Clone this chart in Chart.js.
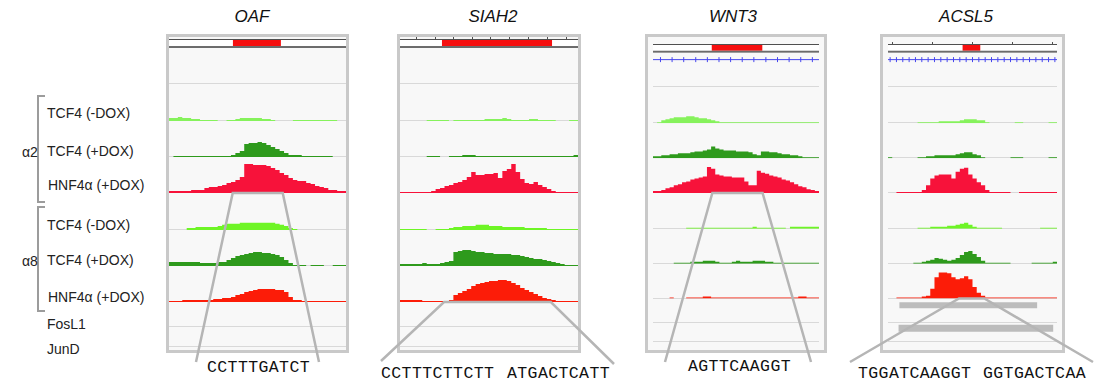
<!DOCTYPE html>
<html>
<head>
<meta charset="utf-8">
<script src="https://cdn.jsdelivr.net/npm/chart.js@4.4.1/dist/chart.umd.min.js"></script>
<style>
body{margin:0;width:1096px;height:383px;background:#fff;position:relative;overflow:hidden;font-family:"Liberation Sans",Arial,sans-serif}
.panel{position:absolute;top:34px;height:313px;border:3px solid #c9c9c9;background:#f8f8f8}
.panel canvas{display:block}
.gene{position:absolute;top:17px;font-style:italic;font-size:17px;color:#111;transform:translate(-50%,-50%)}
.lab{position:absolute;font-size:14px;color:#222;transform:translateY(-50%);white-space:nowrap}
.seq{position:absolute;font-family:"Liberation Mono","Courier New",monospace;font-size:16.5px;letter-spacing:0.4px;color:#111;transform:translateY(-50%);white-space:nowrap}
.br{position:absolute;border:2px solid #9c9c9c;border-right:none;width:6px}
#over{position:absolute;left:0;top:0;z-index:5}
</style>
</head>
<body>

<div class="gene" style="left:252px">OAF</div>
<div class="gene" style="left:493px">SIAH2</div>
<div class="gene" style="left:733px">WNT3</div>
<div class="gene" style="left:966px">ACSL5</div>

<div class="br" style="left:37px;top:95px;height:104px"></div>
<div class="br" style="left:37px;top:206px;height:102px"></div>
<div class="lab" style="left:22px;top:152px">α2</div>
<div class="lab" style="left:22px;top:261px">α8</div>
<div class="lab" style="left:47px;top:113px">TCF4 (-DOX)</div>
<div class="lab" style="left:47px;top:151px">TCF4 (+DOX)</div>
<div class="lab" style="left:48px;top:185px">HNF4α (+DOX)</div>
<div class="lab" style="left:47px;top:225px">TCF4 (-DOX)</div>
<div class="lab" style="left:47px;top:260px">TCF4 (+DOX)</div>
<div class="lab" style="left:48px;top:297px">HNF4α (+DOX)</div>
<div class="lab" style="left:47px;top:324px">FosL1</div>
<div class="lab" style="left:47px;top:349px">JunD</div>

<div class="panel" style="left:166px;width:177px"><canvas id="c0" width="177" height="313"></canvas></div>
<div class="panel" style="left:397px;width:178px"><canvas id="c1" width="178" height="313"></canvas></div>
<div class="panel" style="left:645px;width:176px"><canvas id="c2" width="176" height="313"></canvas></div>
<div class="panel" style="left:880px;width:179px"><canvas id="c3" width="179" height="313"></canvas></div>

<div class="seq" style="left:207px;top:367px">CCTTTGATCT</div>
<div class="seq" style="left:381px;top:373px">CCTTTCTTCTT</div>
<div class="seq" style="left:507px;top:373px">ATGACTCATT</div>
<div class="seq" style="left:688px;top:366px">AGTTCAAGGT</div>
<div class="seq" style="left:858px;top:373px">TGGATCAAGGT</div>
<div class="seq" style="left:983px;top:373px">GGTGACTCAA</div>

<svg id="over" width="1096" height="383"></svg>

<script>
// signal per bin (40 bins per locus), track height ~36
const oaf_t1 = [3,3,4,3,3,2,2,1,1,1,1,0,0,1,1,2,3,3,3,3,3,2,2,1,0,0,0,0,1,1,1,1,1,1,1,1,1,1,0,0]
const oaf_t2 = [0,1,1,1,1,1,1,1,1,1,1,1,1,1,2,4,6,13,14,14,15,14,12,10,8,6,4,2,2,2,1,1,1,1,1,1,1,0,0,0]
const oaf_t3 = [2,2,2,2,2,3,3,3,5,6,6,7,8,10,11,13,16,29,29,28,28,28,27,25,23,20,18,15,13,12,12,10,9,7,6,5,3,3,2,2]
const oaf_t4 = [0,0,0,0,2,2,3,3,3,3,3,4,5,6,6,6,7,7,7,7,7,7,7,7,6,5,4,2,1,0,0,0,0,0,0,0,0,0,0,0]
const oaf_t5 = [4,4,4,4,4,4,4,3,3,3,3,4,4,6,8,10,11,12,13,14,14,13,13,12,11,9,6,3,1,1,1,0,1,1,1,0,0,1,1,1]
const oaf_t6 = [1,1,1,2,2,2,2,2,2,2,3,3,4,4,5,7,8,10,11,12,13,13,13,13,12,12,10,5,2,2,1,1,1,1,1,1,1,1,1,1]

const siah_t1 = [0,0,0,0,0,0,1,1,1,1,1,0,1,1,1,1,1,1,1,2,2,2,2,3,2,1,1,1,1,2,2,1,1,1,1,0,0,0,1,1]
const siah_t2 = [0,0,0,0,0,0,1,1,1,0,0,1,1,1,2,2,2,1,1,1,1,1,1,1,1,1,1,1,1,1,1,1,1,1,1,1,1,1,1,2]
const siah_t3 = [1,1,1,1,1,1,1,2,4,5,7,8,10,11,13,16,21,18,18,19,19,20,15,22,24,29,21,14,10,9,11,8,6,4,2,1,1,1,1,1]
const siah_t4 = [1,1,1,1,1,1,0,0,1,1,1,2,3,3,4,4,4,5,5,5,4,4,4,3,3,3,3,3,2,2,2,2,2,1,1,1,1,1,1,1]
const siah_t5 = [2,2,2,2,2,3,2,2,2,3,4,5,14,15,16,16,15,14,14,13,13,12,12,12,12,11,11,10,9,8,7,7,6,5,4,3,2,1,1,1]
const siah_t6 = [2,2,2,2,2,1,1,1,1,1,1,2,7,9,11,13,16,18,19,20,21,21,22,22,21,19,17,14,12,10,8,6,4,3,2,1,1,1,1,1]

const wnt_t1 = [0,1,3,4,5,6,6,6,7,7,6,5,5,4,3,2,1,1,1,1,1,1,1,1,1,1,1,1,1,1,1,1,1,1,1,1,1,1,1,1]
const wnt_t2 = [2,2,3,3,4,4,5,5,5,6,7,7,8,9,12,10,9,8,8,8,7,7,7,6,4,3,7,7,6,6,5,4,4,3,3,2,1,1,1,1]
const wnt_t3 = [2,2,3,5,6,8,9,11,12,14,15,16,17,27,25,19,18,17,17,16,16,16,12,8,8,23,21,20,18,17,16,14,13,11,9,7,6,4,3,2]
const wnt_t4 = [0,0,0,0,0,0,0,0,1,1,1,1,1,1,1,1,1,1,1,1,1,1,1,1,2,1,1,1,1,1,1,1,0,2,2,2,2,2,2,2]
const wnt_t5 = [0,0,0,0,0,1,1,1,1,2,2,2,3,3,3,2,1,1,1,2,3,2,2,2,3,3,3,2,2,1,1,1,1,1,1,1,1,1,1,1]
const wnt_t6 = [0,0,0,0,1,0,0,0,1,1,1,1,2,2,1,1,1,1,1,1,1,1,1,1,1,1,1,1,1,1,1,1,1,1,1,2,2,1,1,1]

const acsl_t1 = [0,0,0,0,0,0,0,1,1,1,1,1,2,2,2,2,2,3,4,4,4,3,3,1,0,0,0,0,0,0,1,1,0,0,0,0,0,0,1,1]
const acsl_t2 = [1,0,0,0,0,0,0,1,1,2,2,3,3,3,3,3,4,5,6,6,4,3,1,0,0,0,0,0,0,1,1,1,0,0,0,0,0,0,1,1]
const acsl_t3 = [0,0,1,1,1,1,1,1,3,8,15,18,19,19,19,15,22,25,26,19,15,11,8,3,1,1,1,1,1,0,0,1,1,1,1,1,1,1,1,1]
const acsl_t4 = [0,0,0,0,0,0,0,1,1,1,2,2,2,2,3,3,4,5,6,4,2,1,1,1,1,1,1,0,0,0,0,0,0,0,0,0,1,1,1,1]
const acsl_t5 = [0,0,0,0,0,0,1,1,2,3,4,6,5,4,3,4,6,9,12,13,10,7,3,1,1,1,1,1,1,0,0,0,0,0,1,1,1,1,1,2]
const acsl_t6 = [0,0,1,1,1,1,1,1,2,3,10,22,27,27,26,22,20,21,23,20,12,6,3,1,1,1,1,1,1,1,1,1,1,1,1,1,1,1,1,1]

// highlighted region in header (bin units)
const oafRegion = [14.4, 25.3]
const siahRegion = [9.4, 34.2]
const wntRegion = [14.1, 26.4]
const acslRegion = [17.6, 21.9]

// ruler ticks on header line
const siahTicks = [3.6,7.9,11.9,16.2,20.2,24.5,28.8,33.0,37.3]
const acslTicks = [0.9,10.3,19.9,29.3,38.9]

// gene model tick marks
const wntExonTicks = [1.8,4.6,7.4,10.3,13.1,15.9,18.7,21.5,24.3,27.2,30.0,32.8,35.6,38.4]
const acslExonTicks = [0.5,2,3.5,5,6.5,8,9.5,11,12.5,14,15.5,17,18.5,20,21.5,23,24.5,26,27.5,29,30.5,32,33.5,35,36.5,38,39.5]

// FosL1 / JunD peaks (ACSL5 only)
const acslFosL1 = [2.7, 35.3]
const acslJunD = [2.5, 39.1]

// zoom-in callouts: top edge in bins on a track, bottom ends in page px
const oafCallout = [14.4, 25.7]
const siahCallout = [9.9, 33.9]
const wntCallout = [14.3, 26.4]
const acslCallout = [16.8, 22.8]

const NB = 40
const TRACKS = ['t1','t2','t3','t4','t5','t6']
const COLORS = ['#86f25c','#2e9a1c','#f7123a','#6ef526','#2e9a1c','#fc1c08']
const WEIGHTS = {hdr:11, gene:36, t1:37, t2:36, t3:36, t4:37, t5:36, t6:36, fos:25, jun:20, pad:3}

const panels = [
  {id:'c0', left:169, tracks:[oaf_t1,oaf_t2,oaf_t3,oaf_t4,oaf_t5,oaf_t6], region:oafRegion, ticks:[], exon:null,
   callout:{bins:oafCallout, track:'t3', ends:[[196,362],[319,362]]}},
  {id:'c1', left:400, tracks:[siah_t1,siah_t2,siah_t3,siah_t4,siah_t5,siah_t6], region:siahRegion, ticks:siahTicks, exon:null,
   callout:{bins:siahCallout, track:'t6', ends:[[381,361],[614,364]]}},
  {id:'c2', left:648, tracks:[wnt_t1,wnt_t2,wnt_t3,wnt_t4,wnt_t5,wnt_t6], region:wntRegion, ticks:[], exon:wntExonTicks,
   callout:{bins:wntCallout, track:'t3', ends:[[665,362],[811,362]]}},
  {id:'c3', left:883, tracks:[acsl_t1,acsl_t2,acsl_t3,acsl_t4,acsl_t5,acsl_t6], region:acslRegion, ticks:acslTicks, exon:acslExonTicks,
   fos:acslFosL1, jun:acslJunD,
   callout:{bins:acslCallout, track:'t6', ends:[[850,362],[1093,362]]}}
]

function toXY(arr){
  let pts = arr.map((v,i) => ({x:i, y:v}))
  pts.push({x:arr.length, y:arr[arr.length-1]})
  return pts
}

const trackPlugin = {
  id:'tracks',
  beforeDatasetsDraw(chart){
    const ctx = chart.ctx, a = chart.chartArea, h = chart.scales.hdr
    ctx.save()
    ctx.fillStyle = '#fff'
    ctx.fillRect(a.left, h.getPixelForValue(0.82), a.right-a.left, h.getPixelForValue(0.18)-h.getPixelForValue(0.82))
    ctx.strokeStyle = '#d9d9d9'
    ctx.lineWidth = 1
    ;['gene','t1','t2','t3','t4','t5','t6','fos','jun'].forEach(k => {
      const y = Math.round(chart.scales[k].bottom) - 0.5
      ctx.beginPath(); ctx.moveTo(a.left, y); ctx.lineTo(a.right, y); ctx.stroke()
    })
    ctx.restore()
  },
  afterDatasetsDraw(chart, args, opts){
    const ctx = chart.ctx, a = chart.chartArea, h = chart.scales.hdr, x = chart.scales.x
    ctx.save()
    ctx.strokeStyle = '#505050'
    ctx.lineWidth = 1
    const yt = Math.round(h.getPixelForValue(0.82)) + 0.5
    ctx.beginPath(); ctx.moveTo(a.left, yt); ctx.lineTo(a.right, yt); ctx.stroke()
    ;(opts.ticks || []).forEach(t => {
      const px = Math.round(x.getPixelForValue(t)) + 0.5
      ctx.beginPath(); ctx.moveTo(px, h.getPixelForValue(1)); ctx.lineTo(px, yt); ctx.stroke()
    })
    ctx.fillStyle = '#6b6b6b'
    ctx.fillRect(a.left, h.getPixelForValue(0.18), a.right-a.left, h.bottom-h.getPixelForValue(0.18))
    ctx.restore()
  }
}

function buildScales(){
  let s = {x:{type:'linear', min:0, max:NB, display:false}}
  Object.keys(WEIGHTS).forEach(k => {
    const sig = TRACKS.includes(k)
    s[k] = {type:'linear', position:'right', stack:'tracks', stackWeight:WEIGHTS[k],
            min:0, max: sig ? 36 : 1, display:false}
  })
  return s
}

const charts = panels.map(p => {
  let datasets = []
  datasets.push({data:[{x:p.region[0], y:0.8},{x:p.region[1], y:0.8}], yAxisID:'hdr',
    fill:{value:0.18}, backgroundColor:'#f60f0f', borderWidth:0, pointRadius:0})
  p.tracks.forEach((arr, i) => {
    datasets.push({data:toXY(arr), yAxisID:TRACKS[i], stepped:true, fill:'origin',
      backgroundColor:COLORS[i], borderWidth:0, pointRadius:0})
  })
  if (p.exon) {
    datasets.push({data:[{x:0, y:0.8},{x:NB, y:0.8}], yAxisID:'gene', borderColor:'#4646ee',
      borderWidth:1, pointRadius:0, fill:false})
    datasets.push({data:p.exon.map(v => ({x:v, y:0.8})), yAxisID:'gene', showLine:false,
      pointStyle:'line', pointRotation:90, pointRadius:2.5, pointBorderColor:'#4646ee', pointBorderWidth:1})
  }
  if (p.fos) {
    datasets.push({data:[{x:p.fos[0], y:0.72},{x:p.fos[1], y:0.72}], yAxisID:'fos', borderColor:'#bcbcbc',
      borderWidth:6, borderCapStyle:'butt', pointRadius:0, fill:false})
    datasets.push({data:[{x:p.jun[0], y:0.72},{x:p.jun[1], y:0.72}], yAxisID:'jun', borderColor:'#bcbcbc',
      borderWidth:7, borderCapStyle:'butt', pointRadius:0, fill:false})
  }
  return new Chart(document.getElementById(p.id), {
    type:'line',
    data:{datasets:datasets},
    options:{
      responsive:false, animation:false, events:[],
      layout:{padding:0},
      scales:buildScales(),
      plugins:{legend:{display:false}, tooltip:{enabled:false}, tracks:{ticks:p.ticks}}
    },
    plugins:[trackPlugin]
  })
})

// callout trapezoids drawn over the panels
const svg = document.getElementById('over')
panels.forEach((p, i) => {
  const c = charts[i]
  const y = 37 + c.scales[p.callout.track].bottom
  const x0 = p.left + c.scales.x.getPixelForValue(p.callout.bins[0])
  const x1 = p.left + c.scales.x.getPixelForValue(p.callout.bins[1])
  const e = p.callout.ends
  const pl = document.createElementNS('http://www.w3.org/2000/svg', 'polyline')
  pl.setAttribute('points', e[0][0]+','+e[0][1]+' '+x0+','+y+' '+x1+','+y+' '+e[1][0]+','+e[1][1])
  pl.setAttribute('fill', 'none')
  pl.setAttribute('stroke', '#b5b5b5')
  pl.setAttribute('stroke-width', '2.5')
  svg.appendChild(pl)
})
</script>
</body>
</html>
